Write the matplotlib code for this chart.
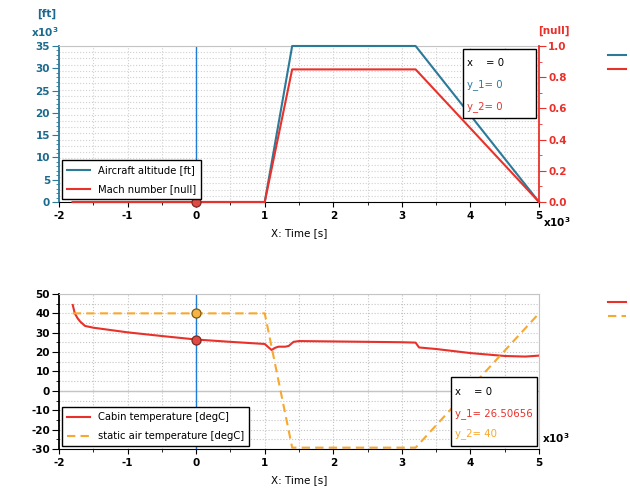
import matplotlib
matplotlib.use("Agg")
import matplotlib.pyplot as plt
from matplotlib.ticker import MultipleLocator, FormatStrFormatter
from matplotlib.patches import Rectangle

# flight profile (time in x10^3 s)
t_flight = [-1.8, 1.0, 1.4, 3.2, 5.0]
altitude = [0, 0, 35, 35, 0]          # x10^3 ft
mach = [0, 0, 0.85, 0.85, 0]

# temperatures
t_cabin = [-1.8, -1.77, -1.73, -1.69, -1.62, -1.5, -1.0, -0.5, 0.0, 0.5, 1.0,
           1.05, 1.1, 1.15, 1.2, 1.3, 1.35, 1.42, 1.5, 2.0, 3.0, 3.2, 3.25,
           3.5, 4.0, 4.5, 4.8, 5.0]
cabin_temp = [44.3, 40.0, 37.5, 35.7, 33.5, 32.6, 30.2, 28.3, 26.5, 25.3, 24.2,
              22.6, 21.1, 22.2, 22.8, 22.8, 23.2, 25.3, 25.7, 25.5, 25.1, 24.9,
              22.4, 21.6, 19.5, 18.0, 17.7, 18.2]
t_static = [-1.8, 1.0, 1.4, 3.2, 5.0]
static_temp = [40, 40, -29.3, -29.3, 40]

# cursor readout
cursor_x = 0
cursor_top = [0, 0]
cursor_bottom = [26.50656, 40]

teal = "#2b7a99"
teal_txt = "#1b6a8e"
red = "#e8312b"
orange = "#f7a82f"
cross = "#1f7bd6"
lgray = "#c4c4c4"
grid_kw = dict(color="#c4c4c4", linestyle=":", linewidth=0.8)

plt.rcParams["font.family"] = "DejaVu Sans"
plt.rcParams["font.weight"] = "bold"
plt.rcParams["axes.unicode_minus"] = False

fig = plt.figure(figsize=(6.3, 4.94), dpi=100)
rect_top = [0.0937, 0.5911, 0.7619, 0.3158]
rect_bot = [0.0937, 0.0911, 0.7619, 0.3138]

# ---- top plot ----
gax = fig.add_axes(rect_top, zorder=0)
gax.set_xlim(-2, 5)
gax.set_ylim(0, 35)
gax.xaxis.set_major_locator(MultipleLocator(0.5))
gax.yaxis.set_major_locator(MultipleLocator(1.4))
gax.grid(True, color="#d0d0d0", linestyle=":", linewidth=0.8)
gax.tick_params(length=0, labelbottom=False, labelleft=False)
for s in gax.spines.values():
    s.set_visible(False)

ax1 = fig.add_axes(rect_top, zorder=1)
ax1.patch.set_visible(False)
ax1.plot(t_flight, altitude, color=teal, lw=1.5, label="Aircraft altitude [ft]",
         clip_on=False, zorder=3)
ax1.axvline(cursor_x, color=cross, lw=1)
ax1.set_xlim(-2, 5)
ax1.set_ylim(0, 35)
ax1.xaxis.set_major_locator(MultipleLocator(1))
ax1.xaxis.set_minor_locator(MultipleLocator(0.5))
ax1.yaxis.set_major_locator(MultipleLocator(5))
ax1.yaxis.set_minor_locator(MultipleLocator(1))
ax1.tick_params(axis="y", colors=teal, labelcolor=teal_txt, labelsize=7.5,
                length=5, pad=1.5)
ax1.tick_params(axis="y", which="minor", colors=teal, length=2.5)
ax1.tick_params(axis="x", labelsize=7.5, length=3.5, pad=3)
ax1.tick_params(axis="x", which="minor", length=2.5)
ax1.spines["left"].set_color(teal)
ax1.spines["left"].set_linewidth(1.3)
ax1.spines["top"].set_color(lgray)
ax1.spines["right"].set_visible(False)
ax1.set_xlabel("X: Time [s]", fontsize=7.5, fontweight="normal", labelpad=5)

ax1r = ax1.twinx()
ax1r.plot(t_flight, mach, color=red, lw=1.5, label="Mach number [null]",
          clip_on=False, zorder=3)
ax1r.plot([cursor_x], [cursor_top[1]], "o", ms=6.5, mfc="#e04a44",
          mec="#7a2a22", mew=0.9, zorder=5, clip_on=False)
ax1r.set_ylim(0, 1)
ax1r.yaxis.set_major_locator(MultipleLocator(0.2))
ax1r.yaxis.set_minor_locator(MultipleLocator(0.1))
ax1r.yaxis.set_major_formatter(FormatStrFormatter("%.1f"))
ax1r.tick_params(axis="y", colors=red, labelsize=7.5, length=5, pad=1.5)
ax1r.tick_params(axis="y", which="minor", colors=red, length=2.5)
for k in ("left", "top", "bottom"):
    ax1r.spines[k].set_visible(False)
ax1r.spines["right"].set_color(red)
ax1r.spines["right"].set_linewidth(1.3)

h1, l1 = ax1.get_legend_handles_labels()
h2, l2 = ax1r.get_legend_handles_labels()
ax1r.legend(h1 + h2, l1 + l2, loc="lower left", bbox_to_anchor=(0.006, 0.019),
            borderaxespad=0, fancybox=False, framealpha=1, edgecolor="black",
            prop={"size": 7.2, "weight": "normal"}, handlelength=2.3,
            labelspacing=0.9, borderpad=0.5)

ax1r.add_patch(Rectangle((0.842, 0.538), 0.152, 0.443, transform=ax1r.transAxes,
                         facecolor="white", edgecolor="black", lw=1, zorder=6))
for y, txt, c in [(0.891, "x    = %g" % cursor_x, "black"),
                  (0.750, "y_1= %g" % cursor_top[0], teal),
                  (0.615, "y_2= %g" % cursor_top[1], red)]:
    ax1r.text(0.85, y, txt, color=c, fontsize=7.3, fontweight="normal",
              va="center", transform=ax1r.transAxes, zorder=7)

ax1.text(-0.025, 1.205, "[ft]", color=teal_txt, fontsize=7.5, ha="center",
         va="center", transform=ax1.transAxes)
ax1.text(-0.029, 1.09, r"$\mathbf{x10^3}$", color=teal_txt, fontsize=7.5,
         ha="center", va="center", transform=ax1.transAxes)
ax1.text(1.031, 1.10, "[null]", color=red, fontsize=7.5, ha="center",
         va="center", transform=ax1.transAxes)
ax1.text(1.0375, -0.128, r"$\mathbf{x10^3}$", fontsize=7.5, ha="center",
         va="center", transform=ax1.transAxes)

# ---- bottom plot ----
ax2 = fig.add_axes(rect_bot)
ax2.axhline(0, color=lgray, lw=1)
ax2.plot(t_cabin, cabin_temp, color=red, lw=1.5, label="Cabin temperature [degC]")
ax2.plot(t_static, static_temp, color=orange, lw=1.5, dashes=(4, 2.5),
         label="static air temperature [degC]")
ax2.axvline(cursor_x, color=cross, lw=1)
ax2.plot([cursor_x], [cursor_bottom[0]], "o", ms=6.5, mfc="#e04a44",
         mec="#7a2a22", mew=0.9, zorder=5)
ax2.plot([cursor_x], [cursor_bottom[1]], "o", ms=6.5, mfc="#f7b443",
         mec="#7a5a10", mew=0.9, zorder=5)
ax2.set_xlim(-2, 5)
ax2.set_ylim(-30, 50)
ax2.xaxis.set_major_locator(MultipleLocator(1))
ax2.xaxis.set_minor_locator(MultipleLocator(0.5))
ax2.yaxis.set_major_locator(MultipleLocator(10))
ax2.yaxis.set_minor_locator(MultipleLocator(5))
ax2.grid(True, which="both", **grid_kw)
ax2.tick_params(axis="y", labelsize=7.5, length=5, pad=1.5)
ax2.tick_params(axis="y", which="minor", length=2.5)
ax2.tick_params(axis="x", labelsize=7.5, length=3.5, pad=3)
ax2.tick_params(axis="x", which="minor", length=2.5)
ax2.spines["left"].set_linewidth(1.3)
ax2.spines["top"].set_color(lgray)
ax2.spines["right"].set_color(lgray)
ax2.set_xlabel("X: Time [s]", fontsize=7.5, fontweight="normal", labelpad=5)
ax2.legend(loc="lower left", bbox_to_anchor=(0.006, 0.019), borderaxespad=0,
           fancybox=False, framealpha=1, edgecolor="black",
           prop={"size": 7.2, "weight": "normal"}, handlelength=2.3,
           labelspacing=0.9, borderpad=0.5)

ax2.add_patch(Rectangle((0.8167, 0.019), 0.1791, 0.4455, transform=ax2.transAxes,
                        facecolor="white", edgecolor="black", lw=1, zorder=6))
for y, txt, c in [(0.370, "x    = %g" % cursor_x, "black"),
                  (0.230, "y_1= %.5f" % cursor_bottom[0], red),
                  (0.097, "y_2= %g" % cursor_bottom[1], orange)]:
    ax2.text(0.825, y, txt, color=c, fontsize=7.3, fontweight="normal",
             va="center", transform=ax2.transAxes, zorder=7)
ax2.text(1.006, 0.071, r"$\mathbf{x10^3}$", fontsize=7.5, ha="left",
         va="center", transform=ax2.transAxes)

# legend stubs at the right edge (labels fall outside the picture)
fig.legend(h1 + h2, [" ", " "], loc="upper left", bbox_to_anchor=(0.965, 0.9008),
           frameon=False, borderaxespad=0, borderpad=0, handlelength=1.5,
           labelspacing=0.1, prop={"size": 8.5, "weight": "normal"})
h3, l3 = ax2.get_legend_handles_labels()
fig.legend(h3, [" ", " "], loc="upper left", bbox_to_anchor=(0.965, 0.4008),
           frameon=False, borderaxespad=0, borderpad=0, handlelength=1.5,
           labelspacing=0.1, prop={"size": 8.5, "weight": "normal"})

fig.savefig("out.png", dpi=100)
